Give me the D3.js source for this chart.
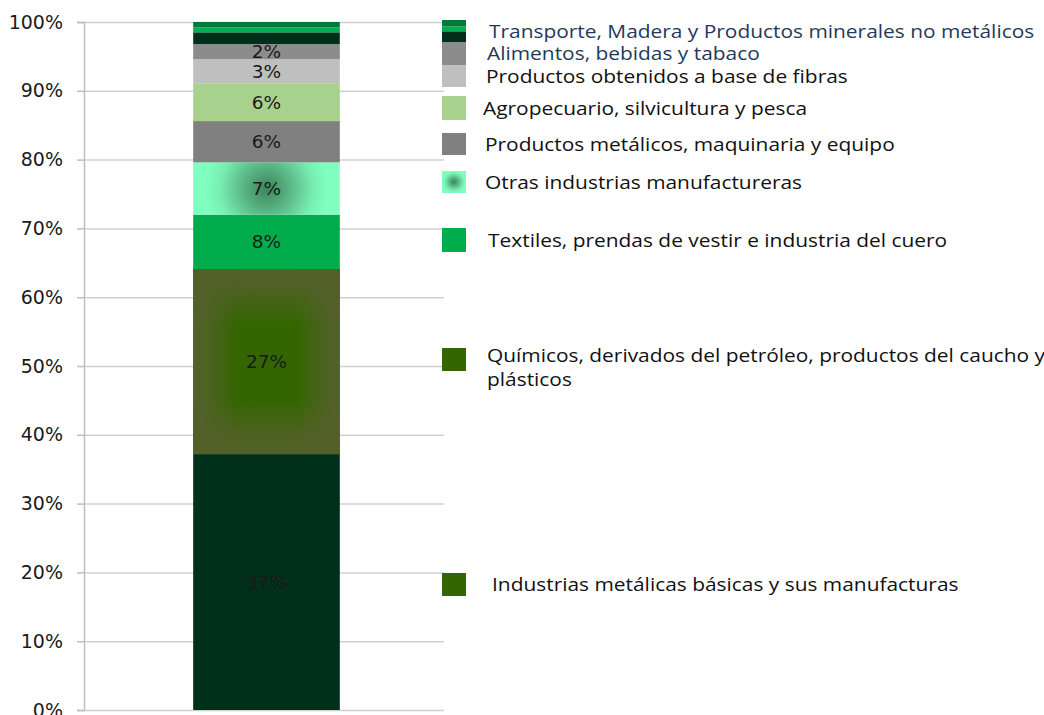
<!DOCTYPE html>
<html>
<head>
<meta charset="utf-8">
<script src="https://cdn.jsdelivr.net/npm/d3@7"></script>
<style>
  body { margin: 0; background: #fff; }
  svg { display: block; }
</style>
</head>
<body>
<div id="chart"></div>
<script>
const width = 1044;
const height = 715;

// Data (bottom to top of the stacked bar)
const categories = ['Total'];
const seriesNames = [
  'Industrias metálicas básicas y sus manufacturas',
  'Químicos, derivados del petróleo, productos del caucho y plásticos',
  'Textiles, prendas de vestir e industria del cuero',
  'Otras industrias manufactureras',
  'Productos metálicos, maquinaria y equipo',
  'Agropecuario, silvicultura y pesca',
  'Productos obtenidos a base de fibras',
  'Alimentos, bebidas y tabaco',
  'Transporte',
  'Madera',
  'Productos minerales no metálicos',
];
const seriesValues = [37.2, 26.9, 7.9, 7.6, 6.0, 5.5, 3.5, 2.2, 1.7, 0.7, 0.8];
const seriesLabels = ['37%', '27%', '8%', '7%', '6%', '6%', '3%', '2%', '', '', ''];
const yTicks = [0, 0.1, 0.2, 0.3, 0.4, 0.5, 0.6, 0.7, 0.8, 0.9, 1];

// Legend entries, top to bottom (series indices they stand for)
const legendLabels = [
  ['Transporte, Madera y Productos minerales no metálicos'],
  ['Alimentos, bebidas y tabaco'],
  ['Productos obtenidos a base de fibras'],
  ['Agropecuario, silvicultura y pesca'],
  ['Productos metálicos, maquinaria y equipo'],
  ['Otras industrias manufactureras'],
  ['Textiles, prendas de vestir e industria del cuero'],
  ['Químicos, derivados del petróleo, productos del caucho y', 'plásticos'],
  ['Industrias metálicas básicas y sus manufacturas'],
];
const legendSeries = [[10, 9, 8], [7], [6], [5], [4], [3], [2], [1], [1]];

// styles / layout
const fills = ['#00301A', '#336600', '#00AC4B', 'url(#gradOtras)', '#808080',
  '#A9D18E', '#BFBFBF', '#8C8C8C', '#00301A', '#00B050', '#007A3A'];
const legendTop = [20, 42, 65, 96, 133, 171, 228, 348, 573];
const legendBoxH = [22, 23, 22, 24, 22, 22, 24, 23, 23];
const legendTextX = [489, 487, 486, 483, 485, 485, 488, 487, 492];
const legendTextColor = ['#1F3A5A', '#1F3A5A', '#111', '#111', '#111', '#111', '#111', '#111', '#111'];
const plot = { left: 84, right: 444, top: 22, bottom: 710 };
const legendStretch = 1.1;

const svg = d3.select('#chart').append('svg')
  .attr('width', width)
  .attr('height', height);

// Gradients
const defs = svg.append('defs');

// olive edge ramps for the "from center" rectangle fill of Químicos
function edgeRamp(id, x2, y2) {
  const g = defs.append('linearGradient').attr('id', id)
    .attr('x1', 0).attr('y1', 0).attr('x2', x2).attr('y2', y2);
  [[0, 1], [0.08, 0.9], [0.22, 0.35], [0.3, 0], [0.7, 0], [0.78, 0.35], [0.92, 0.9], [1, 1]]
    .forEach(([o, a]) => g.append('stop').attr('offset', o)
      .attr('stop-color', '#536129').attr('stop-opacity', a));
}
edgeRamp('rampH', 1, 0);
edgeRamp('rampV', 0, 1);

const gOtras = defs.append('radialGradient').attr('id', 'gradOtras')
  .attr('gradientUnits', 'userSpaceOnUse');
const gOtrasKey = defs.append('radialGradient').attr('id', 'gradOtrasKey')
  .attr('cx', 0.5).attr('cy', 0.5).attr('r', 0.5);
[gOtras, gOtrasKey].forEach(g => {
  g.append('stop').attr('offset', '0%').attr('stop-color', '#3C855A');
  g.append('stop').attr('offset', '35%').attr('stop-color', '#58B282');
  g.append('stop').attr('offset', '75%').attr('stop-color', '#78EDB1');
  g.append('stop').attr('offset', '100%').attr('stop-color', '#80FFC0');
});

// Scales
const x = d3.scaleBand()
  .domain(categories)
  .range([plot.left + 3, plot.right + 2])
  .padding(0.42);

const y = d3.scaleLinear()
  .domain([0, 1])
  .range([plot.bottom, plot.top]);

// Gridlines
svg.append('g')
  .attr('class', 'grid')
  .attr('transform', `translate(${plot.left},0)`)
  .call(d3.axisRight(y).tickValues(yTicks).tickSize(plot.right - plot.left).tickFormat(''))
  .call(g => g.select('.domain').remove())
  .call(g => g.selectAll('line').attr('stroke', '#D0D0D0').attr('stroke-width', 1.5));

// Y axis
svg.append('g')
  .attr('transform', `translate(${plot.left},0)`)
  .call(d3.axisLeft(y).tickValues(yTicks).tickSize(7).tickFormat(d3.format('.0%')))
  .call(g => g.select('.domain').attr('stroke', '#BFBFBF').attr('stroke-width', 1.5))
  .call(g => g.selectAll('line').attr('stroke', '#BFBFBF').attr('stroke-width', 1.5))
  .call(g => g.selectAll('text')
    .attr('x', -21)
    .attr('fill', '#1a1a1a')
    .style('font-family', 'DejaVu Sans')
    .style('font-size', '19px'));

// Stack
const row = { cat: categories[0] };
seriesNames.forEach((n, i) => { row[n] = seriesValues[i] / 100; });
const stack = d3.stack().keys(seriesNames)([row]);

const bars = svg.append('g').attr('id', 'bars');
stack.forEach((layer, i) => {
  const d = layer[0];
  const bx = x(d.data.cat);
  const by = y(d[1]);
  const bw = x.bandwidth();
  const bh = y(d[0]) - y(d[1]);
  if (i === 3) {
    gOtras.attr('cx', bx + bw / 2).attr('cy', by + bh / 2).attr('r', 62);
  }
  bars.append('rect')
    .attr('x', bx).attr('y', by)
    .attr('width', bw).attr('height', bh)
    .attr('fill', fills[i]);
  if (i === 1) {
    ['rampH', 'rampV'].forEach(id => bars.append('rect')
      .attr('x', bx).attr('y', by)
      .attr('width', bw).attr('height', bh)
      .attr('fill', `url(#${id})`));
  }
});

// Data labels
stack.forEach((layer, i) => {
  if (!seriesLabels[i]) return;
  const d = layer[0];
  svg.append('text')
    .attr('x', x(d.data.cat) + x.bandwidth() / 2)
    .attr('y', (y(d[0]) + y(d[1])) / 2)
    .attr('dy', '0.36em')
    .attr('text-anchor', 'middle')
    .attr('fill', '#1a1a1a')
    .style('font-family', 'DejaVu Sans')
    .style('font-size', '18.5px')
    .text(seriesLabels[i]);
});

// Legend
const legend = svg.append('g').attr('id', 'legend');
legendLabels.forEach((lines, i) => {
  const keys = legendSeries[i];
  const top = legendTop[i];
  const h = legendBoxH[i];
  if (keys.length > 1) {
    // stacked key for the three thin top segments
    const parts = [0.3, 0.22, 0.48];
    let yy = top;
    keys.forEach((k, j) => {
      legend.append('rect')
        .attr('x', 442).attr('y', yy)
        .attr('width', 24).attr('height', h * parts[j])
        .attr('fill', fills[k]);
      yy += h * parts[j];
    });
  } else {
    let fill = fills[keys[0]];
    if (keys[0] === 3) fill = 'url(#gradOtrasKey)';
    legend.append('rect')
      .attr('x', 442).attr('y', top)
      .attr('width', 24).attr('height', h)
      .attr('fill', fill);
  }
  const cy = top + h / 2 - (lines.length - 1) * 4;
  const t = legend.append('text')
    .attr('transform', `translate(${legendTextX[i]},${cy}) scale(${legendStretch},1)`)
    .attr('fill', legendTextColor[i])
    .style('font-family', 'Open Sans')
    .style('font-size', '19px');
  lines.forEach((ln, j) => {
    t.append('tspan')
      .attr('x', 0)
      .attr('dy', j === 0 ? '0.36em' : '1.26em')
      .text(ln);
  });
});
</script>
</body>
</html>
